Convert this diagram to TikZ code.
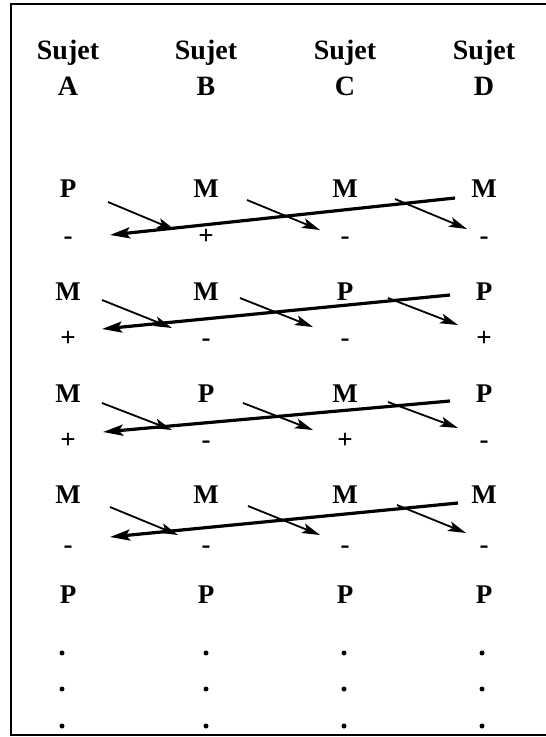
\documentclass[tikz,border=0pt]{standalone}
\usepackage{fontspec}
\setmainfont{Liberation Serif}
\usetikzlibrary{arrows.meta}
\begin{document}
\begin{tikzpicture}[x=1pt,y=-1pt,
 lab/.style={font=\fontsize{27}{29}\selectfont\bfseries, anchor=base, inner sep=0pt},
 headlab/.style={font=\fontsize{28}{30}\selectfont\bfseries, anchor=base, inner sep=0pt},
 longarr/.style={line width=3.2pt, -{Stealth[length=20pt,width=11pt,inset=4pt]}},
 shortarr/.style={line width=1.8pt, -{Stealth[length=18pt,width=10pt,inset=4pt]}},
 dotmark/.style={circle, fill, inner sep=0pt, minimum size=5pt},
 framestyle/.style={line width=1.5pt}]
\useasboundingbox (0,0) rectangle (546,737);
\draw[framestyle] (547,4) -- (11,4) -- (11,735) -- (547,735);
% columns
\def\xA{68}\def\xB{206}\def\xC{345}\def\xD{484}
% headings
\foreach \c/\x in {A/\xA,B/\xB,C/\xC,D/\xD}{
  \node[headlab] (s\c) at (\x,59) {Sujet};
  \node[headlab] (l\c) at (\x,95) {\c};
}
% rows of letters
\foreach \r/\y/\a/\b/\cc/\d in {1/197/P/M/M/M, 2/300/M/M/P/P, 3/402/M/P/M/P, 4/503/M/M/M/M, 5/603/P/P/P/P}{
  \node[lab] (r\r A) at (\xA,\y) {\a};
  \node[lab] (r\r B) at (\xB,\y) {\b};
  \node[lab] (r\r C) at (\xC,\y) {\cc};
  \node[lab] (r\r D) at (\xD,\y) {\d};
}
% signs
\foreach \r/\y/\a/\b/\cc/\d in {1/244/-/+/-/-, 2/346/+/-/-/+, 3/448/+/-/+/-, 4/553/-/-/-/-}{
  \node[lab] (g\r A) at (\xA,\y) {\a};
  \node[lab] (g\r B) at (\xB,\y) {\b};
  \node[lab] (g\r C) at (\xC,\y) {\cc};
  \node[lab] (g\r D) at (\xD,\y) {\d};
}
% dots
\foreach \i/\y in {1/653,2/689,3/726}{
  \node[dotmark] (dA\i) at (62,\y) {};
  \node[dotmark] (dB\i) at (206,\y) {};
  \node[dotmark] (dC\i) at (344,\y) {};
  \node[dotmark] (dD\i) at (482,\y) {};
}
% arrow coordinates
\coordinate (a1s) at (455,198); \coordinate (a1e) at (110,235);
\coordinate (b1s) at (108,202); \coordinate (b1e) at (175,230);
\coordinate (c1s) at (247,200); \coordinate (c1e) at (320,230);
\coordinate (d1s) at (395,199); \coordinate (d1e) at (467,229);
\coordinate (a2s) at (450,295); \coordinate (a2e) at (102,329);
\coordinate (b2s) at (102,300); \coordinate (b2e) at (172,328);
\coordinate (c2s) at (240,298); \coordinate (c2e) at (313,327);
\coordinate (d2s) at (388,298); \coordinate (d2e) at (458,325);
\coordinate (a3s) at (450,401); \coordinate (a3e) at (103,432);
\coordinate (b3s) at (102,403); \coordinate (b3e) at (172,430);
\coordinate (c3s) at (243,403); \coordinate (c3e) at (313,430);
\coordinate (d3s) at (388,402); \coordinate (d3e) at (458,428);
\coordinate (a4s) at (458,503); \coordinate (a4e) at (110,537);
\coordinate (b4s) at (110,507); \coordinate (b4e) at (178,535);
\coordinate (c4s) at (248,506); \coordinate (c4e) at (320,535);
\coordinate (d4s) at (397,505); \coordinate (d4e) at (466,533);
\foreach \r in {1,2,3,4}{
  \draw[longarr] (a\r s) -- (a\r e);
  \draw[shortarr] (b\r s) -- (b\r e);
  \draw[shortarr] (c\r s) -- (c\r e);
  \draw[shortarr] (d\r s) -- (d\r e);
}
\end{tikzpicture}
\end{document}
